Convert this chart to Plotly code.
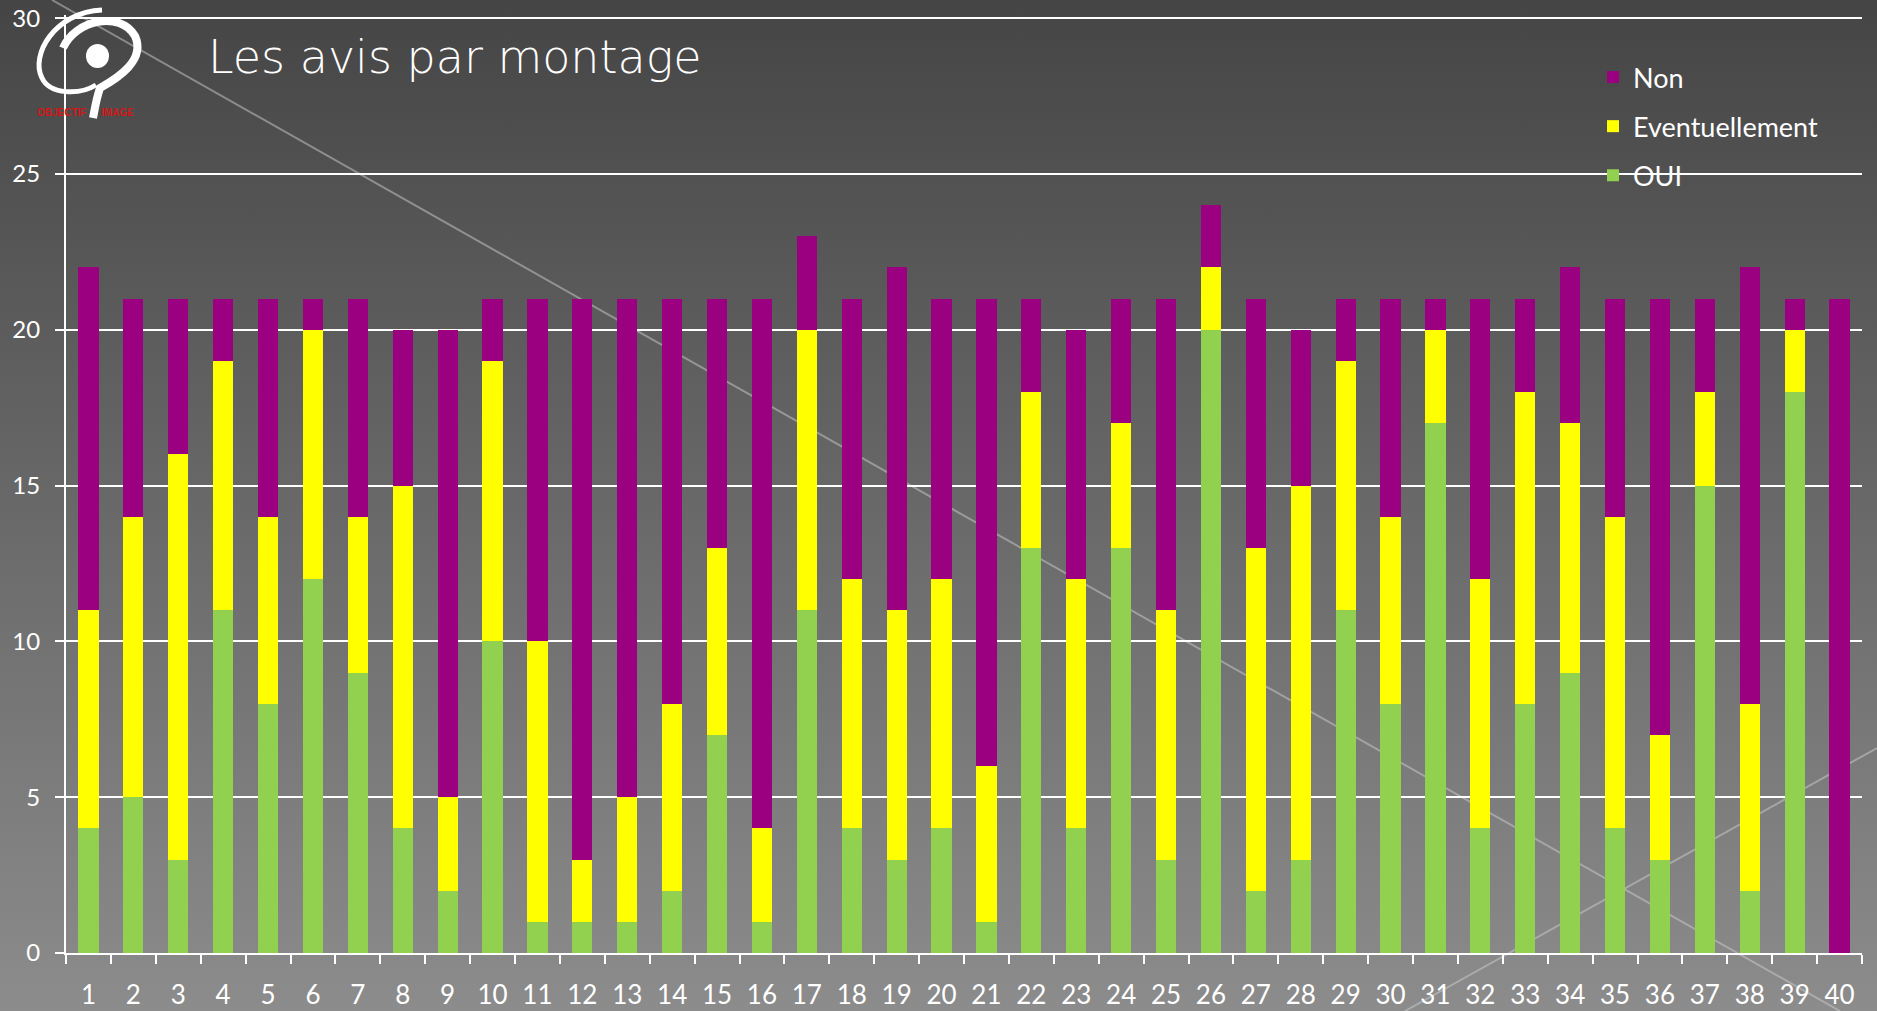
import base64
import plotly.graph_objects as go

# ---------------- data ----------------
montages = [str(i) for i in range(1, 41)]
oui = [4, 5, 3, 11, 8, 12, 9, 4, 2, 10, 1, 1, 1, 2, 7, 1, 11, 4, 3, 4,
       1, 13, 4, 13, 3, 20, 2, 3, 11, 8, 17, 4, 8, 9, 4, 3, 15, 2, 18, 0]
eventuellement = [7, 9, 13, 8, 6, 8, 5, 11, 3, 9, 9, 2, 4, 6, 6, 3, 9, 8, 8, 8,
                  5, 5, 8, 4, 8, 2, 11, 12, 8, 6, 3, 8, 10, 8, 10, 4, 3, 6, 2, 0]
non = [11, 7, 5, 2, 7, 1, 7, 5, 15, 2, 11, 18, 16, 13, 8, 17, 3, 9, 11, 9,
       15, 3, 8, 4, 10, 2, 8, 5, 2, 7, 1, 9, 3, 5, 7, 14, 3, 14, 1, 21]
y_ticks = [0, 5, 10, 15, 20, 25, 30]

# ---------------- geometry helpers (page pixels -> paper) ----------------
W, H = 1877, 1011
L, R, T, B = 66, 15, 15, 58
PW, PH = W - L - R, H - T - B
Y_MAX = 30.1


def px(x):
    return (x - L) / PW


def py(y):
    return (H - B - y) / PH


FONT = "Lato, 'Open Sans', sans-serif"
TFONT = "'DejaVu Sans', Lato, sans-serif"

fig = go.Figure()
fig.add_trace(go.Bar(name="OUI", x=montages, y=oui, marker_color="#92D050",
                     marker_line_width=0, legendgroup="a", legendrank=3))
fig.add_trace(go.Bar(name="Eventuellement", x=montages, y=eventuellement,
                     marker_color="#FFFF00", marker_line_width=0,
                     legendgroup="b", legendrank=2))
fig.add_trace(go.Bar(name="Non", x=montages, y=non, marker_color="#9B0080",
                     marker_line_width=0, legendgroup="c", legendrank=1))

# gradient background as svg image
svg = f'''<svg xmlns="http://www.w3.org/2000/svg" width="{W}" height="{H}" preserveAspectRatio="none">
<defs><linearGradient id="g" x1="0" y1="0" x2="0" y2="1">
<stop offset="0" stop-color="#454545"/><stop offset="1" stop-color="#8c8c8c"/>
</linearGradient></defs><rect width="{W}" height="{H}" fill="url(#g)"/></svg>'''
src = "data:image/svg+xml;base64," + base64.b64encode(svg.encode()).decode()

shapes = [
    dict(type="line", xref="paper", yref="paper", layer="below",
         x0=px(52), y0=py(0), x1=px(1840), y1=py(1011),
         line=dict(color="rgba(205,205,205,0.5)", width=2)),
    dict(type="line", xref="paper", yref="paper", layer="below",
         x0=px(1405), y0=py(1011), x1=px(1877), y1=py(748),
         line=dict(color="rgba(205,205,205,0.5)", width=2)),
]


def path(pts):
    s = "M %f,%f" % (px(pts[0][0]), py(pts[0][1]))
    rest = pts[1:]
    for i in range(0, len(rest), 3):
        (a, b), (c, d), (e, f) = rest[i:i + 3]
        s += " C %f,%f %f,%f %f,%f" % (px(a), py(b), px(c), py(d), px(e), py(f))
    return s


# logo (decorative)
shapes.append(dict(type="path", xref="paper", yref="paper", layer="above",
                   path=path([(102, 10), (55, 12), (30, 55), (42, 78),
                              (50, 95), (80, 95), (96, 85)]),
                   line=dict(color="white", width=5)))
shapes.append(dict(type="path", xref="paper", yref="paper", layer="above",
                   path=path([(63, 48), (75, 20), (120, 10), (135, 36),
                              (146, 60), (118, 78), (100, 88),
                              (96, 100), (95, 108), (93, 118)]),
                   line=dict(color="white", width=8)))
shapes.append(dict(type="circle", xref="paper", yref="paper", layer="above",
                   x0=px(86), x1=px(109), y0=py(68), y1=py(44),
                   fillcolor="white", line=dict(width=0)))

fig.update_layout(
    width=W, height=H,
    margin=dict(l=L, r=R, t=T, b=B, autoexpand=False),
    barmode="stack",
    bargap=0.55,
    paper_bgcolor="#454545",
    plot_bgcolor="rgba(0,0,0,0)",
    font=dict(family=FONT, color="white"),
    showlegend=True,
    legend=dict(x=px(1593), y=py(53), xanchor="left", yanchor="top",
                traceorder="grouped", tracegroupgap=11,
                bgcolor="rgba(0,0,0,0)", font=dict(size=27, color="white")),
    xaxis=dict(type="category", tickson="boundaries", ticks="outside",
               ticklen=9, tickwidth=2, tickcolor="white", automargin=False,
               showline=True, linecolor="white", linewidth=2,
               showgrid=False, tickfont=dict(size=26, color="white"),
               ticklabelstandoff=18),
    yaxis=dict(range=[0, Y_MAX], tickvals=y_ticks, ticks="outside", ticklen=9,
               tickwidth=2, tickcolor="white", showline=True, automargin=False,
               linecolor="white", linewidth=2, gridcolor="white",
               gridwidth=2, zeroline=False,
               tickfont=dict(size=24, color="white"), ticklabelstandoff=10),
    images=[dict(source=src, xref="paper", yref="paper", x=px(0), y=py(0),
                 sizex=W / PW, sizey=H / PH, xanchor="left", yanchor="top",
                 sizing="stretch", layer="below")],
    shapes=shapes,
    annotations=[
        dict(text="Les avis par montage", xref="paper", yref="paper",
             x=px(206), y=py(57), xanchor="left", yanchor="middle",
             showarrow=False,
             font=dict(size=46, color="white", family=TFONT, weight=300)),
        dict(text="<b>OBJECTIF</b>", xref="paper", yref="paper",
             x=px(61), y=py(113), xanchor="center", yanchor="middle",
             showarrow=False,
             font=dict(size=10, color="#D01818", family="Liberation Sans")),
        dict(text="<b>IMAGE</b>", xref="paper", yref="paper",
             x=px(117), y=py(113), xanchor="center", yanchor="middle",
             showarrow=False,
             font=dict(size=10, color="#D01818", family="Liberation Sans")),
    ],
)

fig.write_html(
    "out.html",
    config={"displayModeBar": False},
    post_script="document.body.style.margin='0';"
                "document.body.style.background='#454545';",
)
